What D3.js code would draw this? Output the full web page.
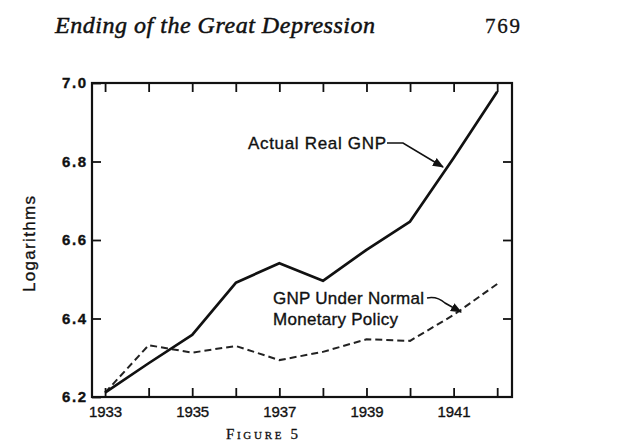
<!DOCTYPE html>
<html>
<head>
<meta charset="utf-8">
<script src="https://cdn.jsdelivr.net/npm/d3@7"></script>
<style>
  body { margin: 0; background: #fff; }
  svg { display: block; }
  .lbl { font-family: "Liberation Sans", Arial, sans-serif; fill: #111; stroke: #111; stroke-width: 0.35px; }
</style>
</head>
<body>
<svg width="636" height="445"></svg>
<script>
// данные
const years = [1933, 1934, 1935, 1936, 1937, 1938, 1939, 1940, 1941, 1942];
const actualGNP = [6.211, 6.286, 6.358, 6.491, 6.541, 6.496, 6.575, 6.647, 6.809, 6.978];
const normalPolicyGNP = [6.211, 6.332, 6.313, 6.33, 6.294, 6.315, 6.347, 6.343, 6.409, 6.488];
const yTicks = [6.2, 6.4, 6.6, 6.8, 7.0];
const xLabelYears = [1933, 1935, 1937, 1939, 1941];

let svg = d3.select("svg");
let frameLeft = 92, frameRight = 512, frameTop = 83, frameBottom = 397;

let scaleX = d3.scaleLinear().domain([1932.7, 1942.34]).range([frameLeft, frameRight]);
let scaleY = d3.scaleLinear().domain([6.2, 7.0]).range([frameBottom, frameTop]);

// заголовок страницы
svg.append("text")
  .attr("x", 55).attr("y", 33)
  .attr("textLength", 320)
  .style("font-family", "'Liberation Serif', 'DejaVu Serif', serif")
  .style("font-style", "italic")
  .style("font-size", "24px")
  .style("fill", "#111").style("stroke", "#111").style("stroke-width", "0.5px")
  .text("Ending of the Great Depression");
svg.append("text")
  .attr("x", 485).attr("y", 33)
  .attr("textLength", 35)
  .style("font-family", "'Liberation Serif', 'DejaVu Serif', serif")
  .style("font-size", "21px")
  .style("fill", "#111").style("stroke", "#111").style("stroke-width", "0.3px")
  .text("769");

// рамка
svg.append("rect")
  .attr("x", frameLeft).attr("y", frameTop)
  .attr("width", frameRight - frameLeft).attr("height", frameBottom - frameTop)
  .attr("fill", "none").attr("stroke", "#111").attr("stroke-width", 2.2);

// оси: метки внутрь рамки
let tickLen = 9;
let axisBottom = d3.axisBottom(scaleX).tickValues(years)
  .tickSizeInner(-tickLen).tickSizeOuter(0)
  .tickFormat(d => xLabelYears.includes(d) ? d : "");
let gx = svg.append("g").attr("transform", `translate(0, ${frameBottom})`).call(axisBottom);
gx.select(".domain").remove();
gx.selectAll("line").attr("stroke", "#111").attr("stroke-width", 1.8);
gx.attr("font-family", null).attr("font-size", null);
gx.selectAll("text")
  .attr("y", 9).attr("dy", "0.71em")
  .attr("class", "lbl")
  .style("font-size", "15px")
  .attr("textLength", d => xLabelYears.includes(d) ? 33 : null);

let axisTop = d3.axisTop(scaleX).tickValues(years)
  .tickSizeInner(-tickLen).tickSizeOuter(0).tickFormat("");
let gt = svg.append("g").attr("transform", `translate(0, ${frameTop})`).call(axisTop);
gt.select(".domain").remove();
gt.selectAll("line").attr("stroke", "#111").attr("stroke-width", 1.8);

let axisLeft = d3.axisLeft(scaleY).tickValues(yTicks)
  .tickSizeInner(-tickLen).tickSizeOuter(0).tickFormat(d3.format(".1f"));
let gy = svg.append("g").attr("transform", `translate(${frameLeft}, 0)`).call(axisLeft);
gy.select(".domain").remove();
gy.selectAll("line").attr("stroke", "#111").attr("stroke-width", 1.8);
gy.attr("font-family", null).attr("font-size", null);
gy.selectAll("text")
  .attr("x", -6)
  .attr("class", "lbl")
  .style("font-size", "15px")
  .style("font-weight", "bold")
  .attr("textLength", 24);

let axisRight = d3.axisRight(scaleY).tickValues(yTicks.slice(1, 4))
  .tickSizeInner(-tickLen).tickSizeOuter(0).tickFormat("");
let gr = svg.append("g").attr("transform", `translate(${frameRight}, 0)`).call(axisRight);
gr.select(".domain").remove();
gr.selectAll("line").attr("stroke", "#111").attr("stroke-width", 1.8);

// подпись оси OY
svg.append("text")
  .attr("class", "lbl")
  .attr("transform", "translate(35, 244) rotate(-90)")
  .attr("text-anchor", "middle")
  .attr("textLength", 96)
  .style("font-size", "17px")
  .text("Logarithms");

// линии
let line = d3.line().x(d => scaleX(d[0])).y(d => scaleY(d[1]));
svg.append("path")
  .datum(years.map((y, i) => [y, normalPolicyGNP[i]]))
  .attr("d", line)
  .attr("fill", "none").attr("stroke", "#222")
  .attr("stroke-width", 2).attr("stroke-dasharray", "7,4");
svg.append("path")
  .datum(years.map((y, i) => [y, actualGNP[i]]))
  .attr("d", line)
  .attr("fill", "none").attr("stroke", "#111")
  .attr("stroke-width", 2.7).attr("stroke-linejoin", "round");

// стрелки-выноски
svg.append("defs").append("marker")
  .attr("id", "arrow").attr("viewBox", "0 0 10 10")
  .attr("refX", 9).attr("refY", 5)
  .attr("markerWidth", 7).attr("markerHeight", 7)
  .attr("orient", "auto")
  .append("path").attr("d", "M0,1 L10,5 L0,9 Z").attr("fill", "#111");

svg.append("text").attr("class", "lbl")
  .attr("x", 248).attr("y", 149)
  .attr("textLength", 138)
  .style("font-size", "17px")
  .text("Actual Real GNP");
svg.append("path")
  .attr("d", "M387,143 L403,143 L443,167")
  .attr("fill", "none").attr("stroke", "#111").attr("stroke-width", 1.6)
  .attr("marker-end", "url(#arrow)");

svg.append("text").attr("class", "lbl")
  .attr("x", 273).attr("y", 304)
  .attr("textLength", 151)
  .style("font-size", "17px")
  .text("GNP Under Normal");
svg.append("text").attr("class", "lbl")
  .attr("x", 273).attr("y", 325)
  .attr("textLength", 125)
  .style("font-size", "17px")
  .text("Monetary Policy");
svg.append("path")
  .attr("d", "M427,298 Q437,296 445,303 L461,312")
  .attr("fill", "none").attr("stroke", "#111").attr("stroke-width", 1.6)
  .attr("marker-end", "url(#arrow)");

// подпись рисунка
svg.append("text")
  .attr("x", 226).attr("y", 439)
  .attr("textLength", 72)
  .style("font-family", "'Liberation Serif', 'DejaVu Serif', serif")
  .style("font-size", "15px")
  .style("font-variant", "small-caps")
  .style("fill", "#111").style("stroke", "#111").style("stroke-width", "0.3px")
  .text("Figure 5");
</script>
</body>
</html>
